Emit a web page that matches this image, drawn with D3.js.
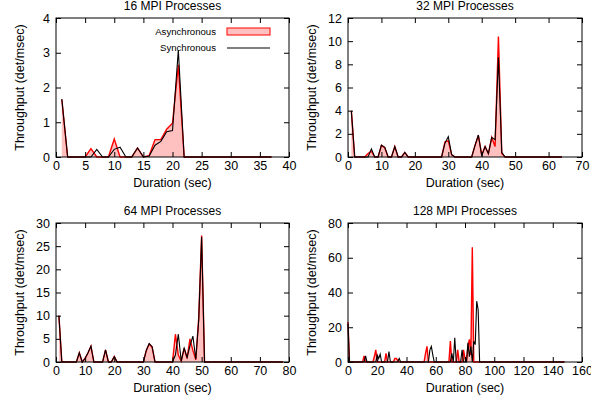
<!DOCTYPE html>
<html>
<head>
<meta charset="utf-8">
<script src="https://cdn.jsdelivr.net/npm/d3@7"></script>
<style>
  body { margin: 0; background: #fff; }
  text { font-family: "Liberation Sans", Arial, sans-serif; fill: #000; }
</style>
</head>
<body>
<svg id="chart" width="605" height="402"></svg>
<script>
// panel titles and axis extents
const titles = ["16 MPI Processes", "32 MPI Processes", "64 MPI Processes", "128 MPI Processes"];
const xTicks = [
    [0, 5, 10, 15, 20, 25, 30, 35, 40],
    [0, 10, 20, 30, 40, 50, 60, 70],
    [0, 10, 20, 30, 40, 50, 60, 70, 80],
    [0, 20, 40, 60, 80, 100, 120, 140, 160]
];
const yTicks = [
    [0, 1, 2, 3, 4],
    [0, 2, 4, 6, 8, 10, 12],
    [0, 5, 10, 15, 20, 25, 30],
    [0, 20, 40, 60, 80]
];

// [seconds, det/msec]
const async16 = [[1,1.65],[2,0],[5,0],[6,0.24],[7,0],[9,0],[10,0.52],[11,0],[13,0],[14,0.26],[15,0],[16,0.04],
    [17,0.5],[18,0.5],[19,0.8],[20,0.97],[21,2.65],[22,0],[37,0]];
const sync16 = [[1,1.67],[2,0],[6,0],[7,0.22],[8,0],[9,0],[10,0.22],[11,0.28],[12,0],[13,0],[14,0.26],[15,0],
    [16,0.03],[17,0.34],[18,0.45],[19,0.73],[20,0.76],[21,3.08],[22,0],[37,0]];

const async32 = [[1,4.0],[2,0],[5,0],[6,0.3],[7,0.5],[8,0],[9,0],[10,1.0],[11,0.8],[12,0],[13,0],[14,0.9],[15,0],
    [16,0],[17,0.4],[18,0],[28,0],[29,1.3],[30,1.4],[31,0.2],[32,0],[37,0],[38,1.0],[39,1.85],[40,0.2],[41,0.9],
    [42,0.3],[43,1.7],[44,0.9],[45,10.4],[46,0.3],[47,0],[64,0]];
const sync32 = [[1,3.97],[2,0],[6,0],[7,0.7],[8,0],[9,0],[10,1.03],[11,0.83],[12,0],[13,0],[14,0.9],[15,0],[16,0],
    [17,0.4],[18,0],[28,0],[29,1.2],[30,1.75],[31,0.2],[32,0],[37,0],[38,1.0],[39,1.9],[40,0.1],[41,0.9],[42,0.3],
    [43,1.7],[44,1.5],[45,8.6],[46,0.4],[47,0],[64,0]];

const async64 = [[1,10],[2,0],[7,0],[8,2.0],[9,0],[10,0.8],[11,2.0],[12,3.4],[13,0],[16,0],[17,2.6],[18,0],[19,0],
    [20,1.2],[21,0],[30,0],[31,2.5],[32,3.9],[33,3.2],[34,0],[40,0],[41,6.0],[42,1.5],[43,0.2],[44,3.0],[45,0.8],
    [46,5.0],[47,2.5],[48,0.5],[49,9.5],[50,27.3],[51,0],[78,0]];
const sync64 = [[1,10],[2,0],[7,0],[8,2.0],[9,0],[10,0.8],[11,2.0],[12,3.45],[13,0],[16,0],[17,2.6],[18,0],[19,0],
    [20,1.15],[21,0],[30,0],[31,2.5],[32,4.0],[33,3.3],[34,0],[40,0],[41,1.5],[42,6.0],[43,0.2],[44,3.0],[45,1.0],
    [46,3.5],[47,5.6],[48,0.6],[49,9.0],[50,27],[51,0],[78,0]];

const async128 = [[0,23],[1,0],[10,0],[11,3.5],[12,0],[17,0],[18,3],[19,7],[20,0],[25,0],[26,5],[27,0],[31,0],
    [32,2],[33,2],[34,1],[35,0],[52,0],[53,5],[54,9],[55,0],[69,0],[70,12],[71,0],[74,0],[75,7],[76,0],[78,0],
    [79,7],[80,2],[81,0],[82,9],[83,13],[84,4],[85,66],[86,0],[148,0]];
const sync128 = [[0,22],[1,0],[11,0],[12,3.5],[13,0],[19,0],[20,4],[21,2],[22,4.5],[23,0],[27,0],[28,6],[29,0],
    [34,0],[35,2],[36,0],[55,0],[56,7],[57,9],[58,4],[59,0],[70,0],[71,5],[72,0],[73,14],[74,0],[77,0],[78,7],
    [79,0],[81,0],[82,11],[83,3],[84,9],[85,0],[86,12],[87,10],[88,35],[89,30],[90,0],[148,0]];

const asyncSeries = [async16, async32, async64, async128];
const syncSeries = [sync16, sync32, sync64, sync128];

// plot boxes
const boxes = [
    { left: 56, right: 289, top: 18, bottom: 157 },
    { left: 348, right: 582, top: 18, bottom: 157 },
    { left: 56, right: 289, top: 223, bottom: 362 },
    { left: 348, right: 582, top: 223, bottom: 362 }
];

const svg = d3.select("#chart");
svg.append("clipPath").attr("id", "page")
    .append("rect").attr("width", 591).attr("height", 402);
const root = svg.append("g").attr("clip-path", "url(#page)");

const FILL = "#ffc0c0", RED = "#ff0000";

boxes.forEach((b, i) => {
    const xt = xTicks[i], yt = yTicks[i];
    const x = d3.scaleLinear().domain([xt[0], xt[xt.length - 1]]).range([b.left, b.right]);
    const y = d3.scaleLinear().domain([yt[0], yt[yt.length - 1]]).range([b.bottom, b.top]);
    const g = root.append("g");

    // data
    const area = d3.area().x(d => x(d[0])).y0(y(0)).y1(d => y(d[1]));
    const line = d3.line().x(d => x(d[0])).y(d => y(d[1]));
    g.append("path").attr("d", area(asyncSeries[i])).attr("fill", FILL);
    g.append("path").attr("d", line(asyncSeries[i])).attr("fill", "none")
        .attr("stroke", RED).attr("stroke-width", 1.4).attr("stroke-linejoin", "miter");
    g.append("path").attr("d", line(syncSeries[i])).attr("fill", "none")
        .attr("stroke", "#000").attr("stroke-width", 1.1);

    // axes (gnuplot style: inward, mirrored)
    const fmt = d => d;
    const bottomAx = g.append("g").attr("transform", `translate(0,${b.bottom})`)
        .call(d3.axisBottom(x).tickValues(xt).tickSize(-5).tickPadding(4).tickFormat(fmt));
    const leftAx = g.append("g").attr("transform", `translate(${b.left},0)`)
        .call(d3.axisLeft(y).tickValues(yt).tickSize(-5).tickPadding(6).tickFormat(fmt));
    g.append("g").attr("transform", `translate(0,${b.top})`)
        .call(d3.axisTop(x).tickValues(xt).tickSize(-5).tickFormat(""));
    g.append("g").attr("transform", `translate(${b.right},0)`)
        .call(d3.axisRight(y).tickValues(yt).tickSize(-5).tickFormat(""));
    g.selectAll(".domain").remove();
    g.selectAll(".tick line").attr("stroke", "#000");
    g.selectAll(".tick text").attr("font-size", 12.5).attr("font-family", null).attr("fill", "#000");
    bottomAx.selectAll("text").attr("dy", "0.75em");

    g.append("rect").attr("x", b.left).attr("y", b.top)
        .attr("width", b.right - b.left).attr("height", b.bottom - b.top)
        .attr("fill", "none").attr("stroke", "#000").attr("stroke-width", 1);

    // labels
    g.append("text").attr("x", (b.left + b.right) / 2).attr("y", b.top - 8)
        .attr("text-anchor", "middle").attr("font-size", 12).text(titles[i]);
    g.append("text").attr("x", (b.left + b.right) / 2).attr("y", b.bottom + 30)
        .attr("text-anchor", "middle").attr("font-size", 12.5).text("Duration (sec)");
    g.append("text")
        .attr("transform", `translate(${b.left - 32},${(b.top + b.bottom) / 2}) rotate(-90)`)
        .attr("text-anchor", "middle").attr("font-size", 12.5).text("Throughput (det/msec)");

    // legend on the first panel only
    if (i === 0) {
        const lg = g.append("g");
        lg.append("text").attr("x", 216).attr("y", 35).attr("text-anchor", "end")
            .attr("font-size", 9.6).text("Asynchronous");
        lg.append("rect").attr("x", 227).attr("y", 28).attr("width", 43).attr("height", 7)
            .attr("fill", FILL).attr("stroke", RED).attr("stroke-width", 1);
        lg.append("text").attr("x", 216).attr("y", 51).attr("text-anchor", "end")
            .attr("font-size", 9.6).text("Synchronous");
        lg.append("line").attr("x1", 227).attr("x2", 270).attr("y1", 48).attr("y2", 48)
            .attr("stroke", "#000").attr("stroke-width", 1.1);
    }
});
</script>
</body>
</html>
